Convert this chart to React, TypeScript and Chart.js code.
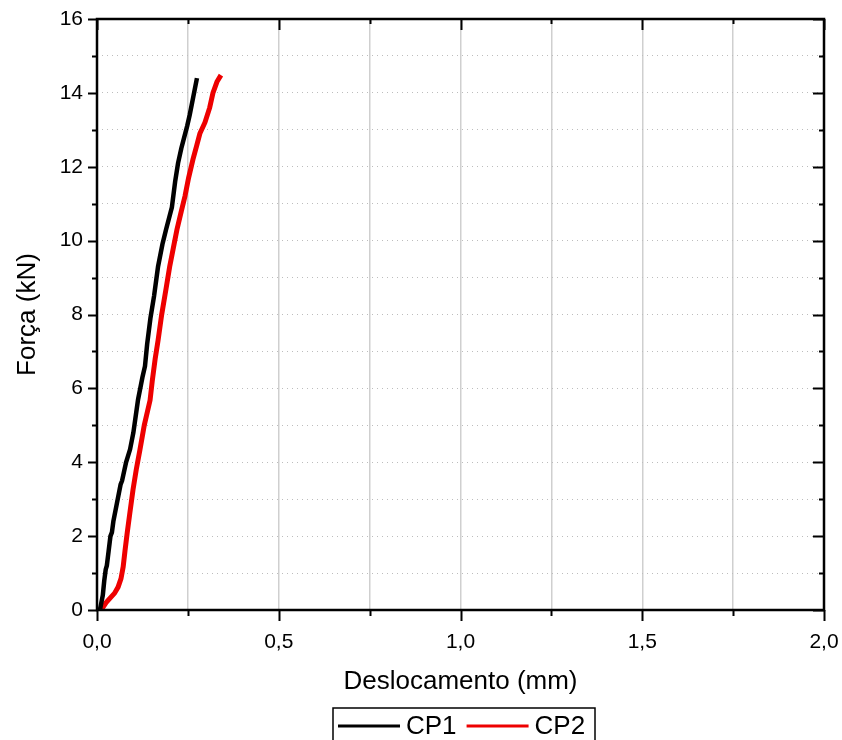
import React, { useEffect, useRef } from "react";
import { Chart, registerables } from "chart.js";

Chart.register(...registerables);

// Ensaio de compressão: deslocamento (mm) x força (kN)
const deslocCP1 = [
  0.008, 0.012, 0.016, 0.02, 0.024, 0.027, 0.032, 0.037, 0.041, 0.045, 0.055,
  0.065, 0.069, 0.08, 0.091, 0.1, 0.113, 0.125, 0.132, 0.138, 0.147, 0.157,
  0.168, 0.18, 0.19, 0.206, 0.215, 0.223, 0.232, 0.248, 0.255, 0.265, 0.275,
];
const forcaCP1 = [
  0, 0.2, 0.4, 0.8, 1.1, 1.2, 1.6, 2.0, 2.1, 2.4, 2.9, 3.4, 3.5, 4.0, 4.35,
  4.8, 5.7, 6.3, 6.6, 7.2, 7.9, 8.5, 9.3, 9.9, 10.3, 10.9, 11.6, 12.1, 12.5,
  13.1, 13.4, 13.9, 14.4,
];
const deslocCP2 = [
  0.01, 0.017, 0.025, 0.036, 0.048, 0.058, 0.066, 0.072, 0.077, 0.083, 0.09,
  0.099, 0.108, 0.118, 0.13, 0.146, 0.152, 0.16, 0.168, 0.178, 0.19, 0.2,
  0.21, 0.22, 0.232, 0.242, 0.252, 0.264, 0.275, 0.283, 0.297, 0.31, 0.319,
  0.33, 0.341,
];
const forcaCP2 = [
  0, 0.08, 0.2, 0.32, 0.45, 0.62, 0.85, 1.17, 1.6, 2.08, 2.6, 3.25, 3.8, 4.33,
  5.0, 5.68, 6.2, 6.8, 7.3, 8.0, 8.7, 9.3, 9.8, 10.3, 10.8, 11.2, 11.7, 12.2,
  12.6, 12.9, 13.2, 13.6, 14.0, 14.3, 14.48,
];

const seriesNames = ["CP1", "CP2"];
const seriesColors = ["#000000", "#ee0000"];

// x ticks every 0.25 mm, labelled every 0.5 mm
const xTicks = [0, 0.25, 0.5, 0.75, 1.0, 1.25, 1.5, 1.75, 2.0];
const xTickLabels = ["0,0", "", "0,5", "", "1,0", "", "1,5", "", "2,0"];
// y ticks every 1 kN, labelled every 2 kN
const yTicks = [0, 1, 2, 3, 4, 5, 6, 7, 8, 9, 10, 11, 12, 13, 14, 15, 16];
const yTickLabels = [
  "0", "", "2", "", "4", "", "6", "", "8", "", "10", "", "12", "", "14", "", "16",
];

const FONT = "'Liberation Sans', Arial, sans-serif";

const toPoints = (xs: number[], ys: number[]) =>
  xs.map((x, i) => ({ x, y: ys[i] }));

const frameAndLegend = {
  id: "frameAndLegend",
  afterDraw(chart: any) {
    const { ctx, chartArea: a, scales } = chart;
    const sx = scales.x;
    const sy = scales.y;
    ctx.save();
    ctx.strokeStyle = "#000";
    ctx.lineCap = "butt";

    // tick marks: outward on bottom/left, inward on top/right
    ctx.lineWidth = 2;
    xTicks.forEach((v, i) => {
      const px = Math.round(sx.getPixelForValue(v)) + 0.5;
      const major = xTickLabels[i] !== "";
      ctx.beginPath();
      ctx.moveTo(px, a.bottom);
      ctx.lineTo(px, a.bottom + (major ? 11 : 6));
      ctx.moveTo(px, a.top);
      ctx.lineTo(px, a.top + (major ? 11 : 5));
      ctx.stroke();
    });
    yTicks.forEach((v, i) => {
      const py = Math.round(sy.getPixelForValue(v)) + 0.5;
      const major = yTickLabels[i] !== "";
      ctx.beginPath();
      ctx.moveTo(a.left, py);
      ctx.lineTo(a.left - (major ? 9 : 5), py);
      ctx.moveTo(a.right, py);
      ctx.lineTo(a.right - (major ? 11 : 5), py);
      ctx.stroke();
    });

    // plot frame
    ctx.lineWidth = 2.5;
    ctx.strokeRect(a.left, a.top, a.right - a.left, a.bottom - a.top);

    // legend box under the axis title
    const boxLeft = 333;
    const boxRight = 595;
    const boxTop = a.bottom + 98;
    ctx.lineWidth = 1.5;
    ctx.strokeRect(boxLeft, boxTop, boxRight - boxLeft, 40);
    const midY = boxTop + 18;
    ctx.font = `26px ${FONT}`;
    ctx.textBaseline = "middle";
    ctx.textAlign = "left";
    let cx = boxLeft + 5;
    seriesNames.forEach((name, i) => {
      ctx.strokeStyle = seriesColors[i];
      ctx.lineWidth = 3;
      ctx.beginPath();
      ctx.moveTo(cx, midY);
      ctx.lineTo(cx + 62, midY);
      ctx.stroke();
      ctx.fillStyle = "#000";
      ctx.fillText(name, cx + 68, midY + 1);
      cx += 68 + ctx.measureText(name).width + 10;
    });
    ctx.restore();
  },
};

export default function App() {
  const canvasRef = useRef<HTMLCanvasElement | null>(null);

  useEffect(() => {
    if (!canvasRef.current) return;
    const chart = new Chart(canvasRef.current, {
      type: "line",
      data: {
        datasets: [
          {
            label: seriesNames[0],
            data: toPoints(deslocCP1, forcaCP1),
            borderColor: seriesColors[0],
            backgroundColor: seriesColors[0],
            borderWidth: 4.5,
            pointRadius: 0,
            tension: 0,
          },
          {
            label: seriesNames[1],
            data: toPoints(deslocCP2, forcaCP2),
            borderColor: seriesColors[1],
            backgroundColor: seriesColors[1],
            borderWidth: 5,
            pointRadius: 0,
            tension: 0,
          },
        ],
      },
      options: {
        animation: false,
        responsive: false,
        devicePixelRatio: 1,
        layout: { padding: { left: 0, right: 18, top: 19, bottom: 0 } },
        plugins: {
          legend: { display: false },
          tooltip: { enabled: false },
        },
        scales: {
          x: {
            type: "linear",
            min: 0,
            max: 2,
            afterBuildTicks: (s: any) => {
              s.ticks = xTicks.map((v) => ({ value: v }));
            },
            afterFit: (s: any) => {
              s.height = 130;
              s.paddingLeft = 0;
              s.paddingRight = 0;
            },
            ticks: {
              autoSkip: false,
              maxRotation: 0,
              padding: 20,
              color: "#000",
              font: { family: FONT, size: 21 },
              callback: (_v: any, i: number) => xTickLabels[i],
            },
            grid: {
              color: "#cfcfcf",
              lineWidth: 1.5,
              drawTicks: false,
            },
            border: { display: false },
            title: {
              display: true,
              text: "Deslocamento (mm)",
              color: "#000",
              font: { family: FONT, size: 26 },
              padding: { top: 0, bottom: 43 },
            },
          },
          y: {
            type: "linear",
            min: 0,
            max: 16,
            afterBuildTicks: (s: any) => {
              s.ticks = yTicks.map((v) => ({ value: v }));
            },
            afterFit: (s: any) => {
              s.width = 97;
              s.paddingTop = 0;
              s.paddingBottom = 0;
            },
            ticks: {
              autoSkip: false,
              padding: 14,
              color: "#000",
              font: { family: FONT, size: 21 },
              callback: (_v: any, i: number) => yTickLabels[i],
            },
            grid: {
              color: "#bdbdbd",
              lineWidth: 1,
              drawTicks: false,
            },
            border: { display: false, dash: [1, 4] },
            title: {
              display: true,
              text: "Força (kN)",
              color: "#000",
              font: { family: FONT, size: 26 },
              padding: { top: 12, bottom: 0 },
            },
          },
        },
      },
      plugins: [frameAndLegend],
    });
    return () => chart.destroy();
  }, []);

  return (
    <div
      style={{
        position: "absolute",
        left: 0,
        top: 0,
        width: 842,
        height: 740,
        background: "#fff",
      }}
    >
      <canvas
        ref={canvasRef}
        width={842}
        height={740}
        style={{ display: "block" }}
      />
    </div>
  );
}
